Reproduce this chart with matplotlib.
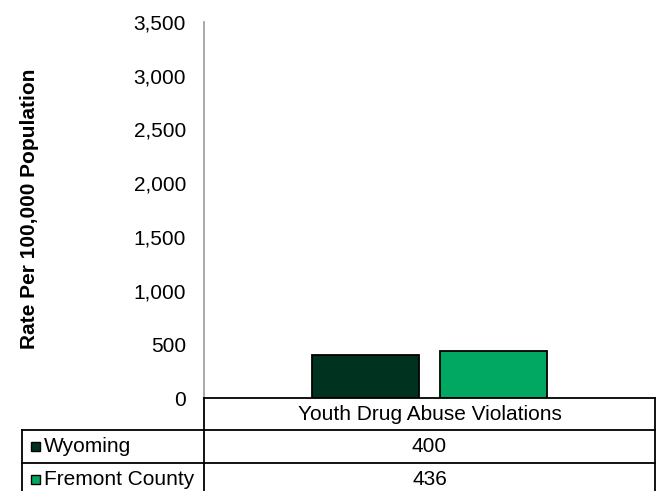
import matplotlib.pyplot as plt
from matplotlib.patches import Rectangle
from matplotlib.lines import Line2D

plt.rcParams['font.family'] = ['Liberation Sans', 'DejaVu Sans']

category = 'Youth Drug Abuse Violations'
series = ['Wyoming', 'Fremont County']
values = [400, 436]
colors = ['#00331F', '#00A862']
yticks = [0, 500, 1000, 1500, 2000, 2500, 3000, 3500]

W, H = 660, 491
fig = plt.figure(figsize=(W / 100, H / 100), dpi=100)

def fx(px):
    return px / W

def fy(py):
    return 1 - py / H

ax = fig.add_axes([fx(204), fy(398), fx(655) - fx(204), fy(22) - fy(398)])
offsets = [-0.142, 0.142]
for off, v, c in zip(offsets, values, colors):
    ax.bar(off, v, width=0.237, color=c, edgecolor='black', linewidth=1.3, zorder=3)
ax.set_xlim(-0.5, 0.5)
ax.set_ylim(0, 3500)
ax.set_yticks(yticks)
ax.set_yticklabels([f'{t:,}' for t in yticks], fontsize=15)
ax.tick_params(axis='y', length=0, pad=13)
ax.set_xticks([])
for s in ['top', 'right', 'bottom']:
    ax.spines[s].set_visible(False)
ax.spines['left'].set_color('#999999')
ax.spines['left'].set_linewidth(1.2)
fig.text(fx(30), fy(209), 'Rate Per 100,000 Population', rotation=90,
         ha='center', va='center', fontsize=15, fontweight='bold')

# data table below the plot
lw = 1.3
def hline(y, x0, x1):
    fig.add_artist(Line2D([fx(x0), fx(x1)], [fy(y), fy(y)], color='black', lw=lw))

def vline(x, y0, y1):
    fig.add_artist(Line2D([fx(x), fx(x)], [fy(y0), fy(y1)], color='black', lw=lw))

rows = [398, 430, 463, 496]
hline(rows[0], 204, 655)
hline(rows[1], 22, 655)
hline(rows[2], 22, 655)
vline(204, rows[0], H + 5)
vline(655, rows[0], H + 5)
vline(22, rows[1], H + 5)

xc = (204 + 655) / 2
fig.text(fx(xc), fy((rows[0] + rows[1]) / 2), category, ha='center', va='center', fontsize=15)
for i, (name, v, c) in enumerate(zip(series, values, colors)):
    yc = (rows[i + 1] + rows[i + 2]) / 2
    fig.add_artist(Rectangle((fx(31), fy(yc + 4.5)), fx(9), fy(yc - 4.5) - fy(yc + 4.5),
                             facecolor=c, edgecolor='black', lw=1, transform=fig.transFigure))
    fig.text(fx(44), fy(yc), name, ha='left', va='center', fontsize=15)
    fig.text(fx(xc), fy(yc), f'{v:,}', ha='center', va='center', fontsize=15)

fig.savefig('out.png', dpi=100)
